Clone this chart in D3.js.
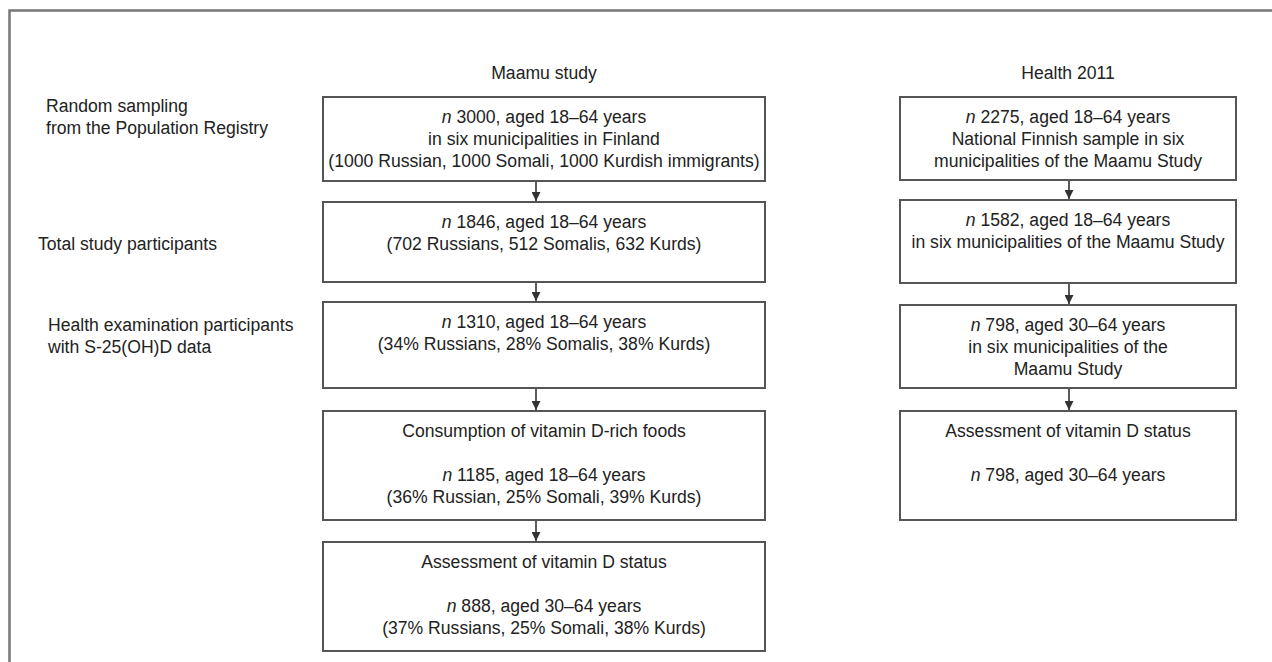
<!DOCTYPE html>
<html>
<head>
<meta charset="utf-8">
<script src="https://cdn.jsdelivr.net/npm/d3@7"></script>
<style>
  html, body { margin: 0; padding: 0; background: #fff; }
  text { font-family: "Liberation Sans", Arial, sans-serif; fill: #222; }
</style>
</head>
<body>
<svg></svg>
<script>
// column headings
const headings = ["Maamu study", "Health 2011"];

// box texts, one array per column ("" = empty line)
const maamuBoxes = [
  ["n 3000, aged 18–64 years", "in six municipalities in Finland", "(1000 Russian, 1000 Somali, 1000 Kurdish immigrants)"],
  ["n 1846, aged 18–64 years", "(702 Russians, 512 Somalis, 632 Kurds)"],
  ["n 1310, aged 18–64 years", "(34% Russians, 28% Somalis, 38% Kurds)"],
  ["Consumption of vitamin D-rich foods", "", "n 1185, aged 18–64 years", "(36% Russian, 25% Somali, 39% Kurds)"],
  ["Assessment of vitamin D status", "", "n 888, aged 30–64 years", "(37% Russians, 25% Somali, 38% Kurds)"]
];
const healthBoxes = [
  ["n 2275, aged 18–64 years", "National Finnish sample in six", "municipalities of the Maamu Study"],
  ["n 1582, aged 18–64 years", "in six municipalities of the Maamu Study"],
  ["n 798, aged 30–64 years", "in six municipalities of the", "Maamu Study"],
  ["Assessment of vitamin D status", "", "n 798, aged 30–64 years"]
];

// step labels on the left
const stepLabels = [
  ["Random sampling", "from the Population Registry"],
  ["Total study participants"],
  ["Health examination participants", "with S-25(OH)D data"]
];

const w = 1272, h = 662;
const svg = d3.select("svg").attr("width", w).attr("height", h);

// layout
const cols = [
  { x0: 323, x1: 765, arrowX: 536, rows: [[97, 181], [202, 282], [302, 388], [411, 520], [542, 651]], boxes: maamuBoxes },
  { x0: 900, x1: 1236, arrowX: 1069, rows: [[97, 180], [200, 283], [305, 388], [411, 520]], boxes: healthBoxes }
];
const labelPos = [{ x: 46, y: 106 }, { x: 38, y: 244 }, { x: 48, y: 325 }];
const fs = 17.6, lh = 22;

// outer frame (cropped: top and left only)
svg.append("path")
  .attr("d", "M9.5," + h + "V10.5H" + w)
  .attr("fill", "none").attr("stroke", "#777").attr("stroke-width", 2.5);

svg.append("defs").append("marker")
  .attr("id", "arr").attr("viewBox", "0 0 10 10")
  .attr("refX", 10).attr("refY", 5)
  .attr("markerWidth", 9).attr("markerHeight", 9)
  .attr("markerUnits", "userSpaceOnUse")
  .attr("orient", "auto")
  .append("path").attr("d", "M0,0L10,5L0,10Z").attr("fill", "#333");

function addLines(sel, lines, x, y, anchor) {
  const t = sel.append("text")
    .attr("text-anchor", anchor)
    .attr("font-size", fs);
  lines.forEach((ln, i) => {
    if (ln === "") return;
    const ts = t.append("tspan").attr("x", x).attr("y", y + i * lh);
    if (ln.startsWith("n ")) {
      ts.append("tspan").attr("font-style", "italic").text("n");
      ts.append("tspan").text(ln.slice(1));
    } else {
      ts.text(ln);
    }
  });
}

cols.forEach((c, ci) => {
  const cx = (c.x0 + c.x1) / 2;
  const g = svg.append("g");
  // heading
  g.append("text").attr("x", cx).attr("y", 79)
    .attr("text-anchor", "middle").attr("font-size", fs).text(headings[ci]);

  const boxes = g.selectAll("g.box").data(c.boxes).join("g").attr("class", "box");
  boxes.append("rect")
    .attr("x", c.x0).attr("width", c.x1 - c.x0)
    .attr("y", (d, i) => c.rows[i][0])
    .attr("height", (d, i) => c.rows[i][1] - c.rows[i][0])
    .attr("fill", "#fff").attr("stroke", "#555").attr("stroke-width", 2);
  boxes.each(function (d, i) {
    addLines(d3.select(this), d, cx, c.rows[i][0] + 26, "middle");
  });

  // arrows between consecutive boxes
  d3.pairs(c.rows).forEach(([a, b]) => {
    g.append("line")
      .attr("x1", c.arrowX).attr("x2", c.arrowX)
      .attr("y1", a[1] + 1).attr("y2", b[0] - 1)
      .attr("stroke", "#333").attr("stroke-width", 1.6)
      .attr("marker-end", "url(#arr)");
  });
});

stepLabels.forEach((lines, i) => {
  addLines(svg, lines, labelPos[i].x, labelPos[i].y + 6, "start");
});
</script>
</body>
</html>
